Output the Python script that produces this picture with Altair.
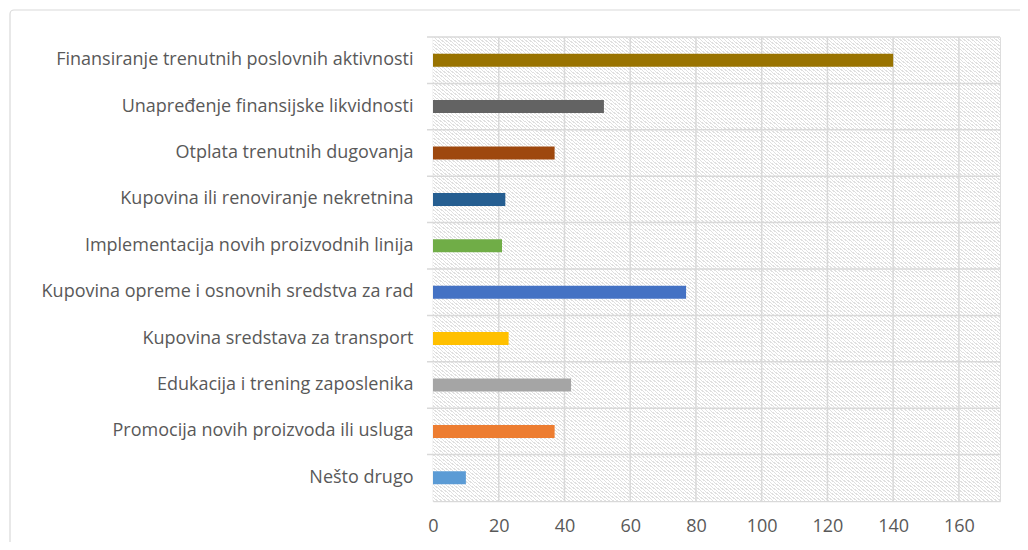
import altair as alt
import pandas as pd

categories = [
    "Finansiranje trenutnih poslovnih aktivnosti",
    "Unapređenje finansijske likvidnosti",
    "Otplata trenutnih dugovanja",
    "Kupovina ili renoviranje nekretnina",
    "Implementacija novih proizvodnih linija",
    "Kupovina opreme i osnovnih sredstva za rad",
    "Kupovina sredstava za transport",
    "Edukacija i trening zaposlenika",
    "Promocija novih proizvoda ili usluga",
    "Nešto drugo",
]
values = [140, 52, 37, 22, 21, 77, 23, 42, 37, 10]
colors = ["#997300", "#636363", "#9E480E", "#255E91", "#70AD47",
          "#4472C4", "#FFC000", "#A5A5A5", "#ED7D31", "#5B9BD5"]
x_ticks = [0, 20, 40, 60, 80, 100, 120, 140, 160]
x_max = 172.5

W, H = 567, 464
TEXT = "#595959"
GRID = "#d9d9d9"
FONT = "Open Sans"

df = pd.DataFrame({"cat": categories, "val": values})
grid_df = pd.DataFrame({"t": x_ticks[1:]})
cat_df = pd.DataFrame({"cat": categories})

# diagonal hatch as a striped gradient
N = 284
duty = 0.36
stops = []
for i in range(N):
    a = i / N
    b = (i + duty) / N
    c = (i + 1) / N
    stops += [
        alt.GradientStop(offset=a, color="#e0e0e0"),
        alt.GradientStop(offset=b, color="#e0e0e0"),
        alt.GradientStop(offset=b, color="#ffffff"),
        alt.GradientStop(offset=c, color="#ffffff"),
    ]
hatch = alt.LinearGradient(gradient="linear", stops=stops, x1=0, y1=1, x2=1, y2=0)

xscale = alt.Scale(domain=[0, x_max], nice=False, zero=True)
yscale = alt.Scale(domain=categories, paddingInner=0, paddingOuter=0)

base = alt.Chart(df)

bg = alt.Chart(cat_df.head(1)).mark_rect(fill=hatch, strokeWidth=0).encode(
    x=alt.value(0), x2=alt.value("width"), y=alt.value(0), y2=alt.value("height")
)

frame = alt.Chart(cat_df.head(1)).mark_rect(
    fill=None, stroke=GRID, strokeWidth=1.2, cornerRadius=4
).encode(
    x=alt.value(-423), x2=alt.value(W + 60), y=alt.value(-27), y2=alt.value(H + 80)
)

vgrid = alt.Chart(grid_df).mark_rule(color=GRID, strokeWidth=1.5).encode(
    x=alt.X("t:Q", scale=xscale),
    y=alt.value(0), y2=alt.value("height"),
)

hgrid = alt.Chart(cat_df).mark_rule(color=GRID, strokeWidth=1.5).encode(
    y=alt.Y("cat:N", scale=yscale, bandPosition=0),
    x=alt.value(-6), x2=alt.value("width"),
)

bars = base.mark_bar(height=13).encode(
    x=alt.X(
        "val:Q", scale=xscale, title=None,
        axis=alt.Axis(
            values=x_ticks, grid=False, ticks=False, domain=True,
            domainColor=GRID, domainWidth=1.5, labelPadding=16,
            labelColor=TEXT, labelFont=FONT, labelFontSize=18,
            labelFlush=False,
        ),
    ),
    y=alt.Y(
        "cat:N", scale=yscale, sort=categories, title=None,
        axis=alt.Axis(
            grid=False, ticks=False, domain=True, domainColor=GRID,
            domainWidth=1.5, labelPadding=20, labelColor=TEXT,
            labelFont=FONT, labelFontSize=18, labelLimit=500,
        ),
    ),
    color=alt.Color("cat:N", scale=alt.Scale(domain=categories, range=colors), legend=None),
)

chart = alt.layer(frame, bg, vgrid, hgrid, bars).properties(
    width=W, height=H,
    autosize=alt.AutoSizeParams(type="none"),
    padding={"left": 425, "top": 29, "right": 20, "bottom": 41},
).configure_view(stroke=None).configure(background="white")

chart.save("out.html", embed_options={"renderer": "svg", "actions": False})
